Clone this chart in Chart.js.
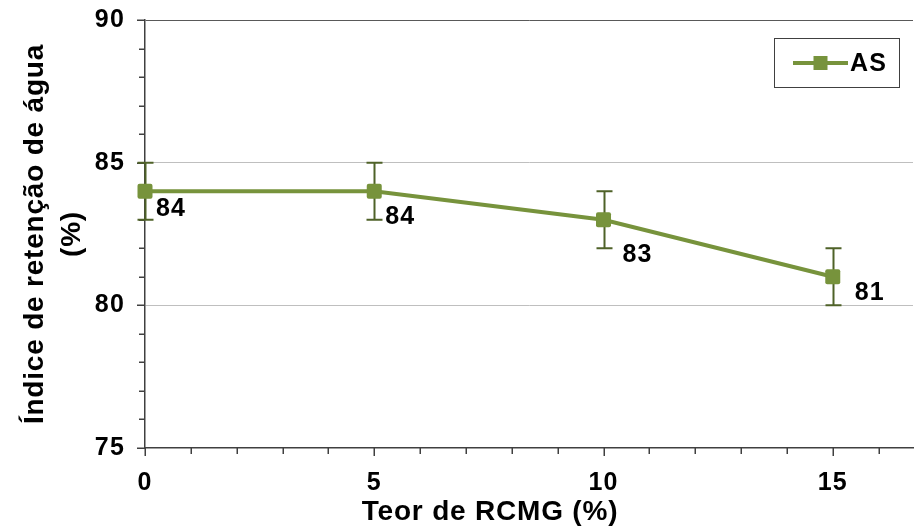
<!DOCTYPE html>
<html>
<head>
<meta charset="utf-8">
<script src="https://cdn.jsdelivr.net/npm/chart.js@4/dist/chart.umd.min.js"></script>
<style>
  html, body { margin: 0; padding: 0; background: #ffffff; }
  #wrap { width: 914px; height: 527px; }
</style>
</head>
<body>
<div id="wrap"><canvas id="c" width="914" height="527"></canvas></div>
<script>
// Water retention index versus RCMG content
const teorRCMG = [0, 5, 10, 15];
const retencaoAS = [84, 84, 83, 81];
const erroAS = [1, 1, 1, 1];
const seriesName = 'AS';
const xTitle = 'Teor de RCMG (%)';
const yTitleLines = ['Índice de retenção de água', '(%)'];

const GREEN = '#77933C';
const DARK_GREEN = '#4F6228';
const AXIS = '#404040';
const FONT = '"Liberation Sans", Arial, sans-serif';
const LABEL_SPACING = '1.2px';
const TITLE_SPACING = '0.8px';

const overlay = {
  id: 'overlay',
  beforeDraw(chart) {
    chart.ctx.letterSpacing = LABEL_SPACING;
  },
  afterDatasetsDraw(chart, args, opts) {
    const ctx = chart.ctx;
    const xs = chart.scales.x, ys = chart.scales.y;
    const area = chart.chartArea;
    ctx.save();

    // minor + major tick marks (outside)
    ctx.strokeStyle = AXIS;
    ctx.lineWidth = 1.5;
    for (let v = Math.ceil(xs.min); v <= xs.max; v++) {
      const px = Math.round(xs.getPixelForValue(v)) + 0.25;
      const len = v % 5 === 0 ? 8 : 6;
      ctx.beginPath(); ctx.moveTo(px, area.bottom); ctx.lineTo(px, area.bottom + len); ctx.stroke();
    }
    for (let v = ys.min; v <= ys.max; v++) {
      const py = Math.round(ys.getPixelForValue(v)) + 0.25;
      const len = v % 5 === 0 ? 8 : 6;
      ctx.beginPath(); ctx.moveTo(area.left, py); ctx.lineTo(area.left - len, py); ctx.stroke();
    }

    // error bars
    const meta = chart.getDatasetMeta(0);
    ctx.strokeStyle = DARK_GREEN;
    ctx.lineWidth = 2;
    meta.data.forEach((pt, i) => {
      const x = Math.round(pt.x) + 0.5;
      const yTop = ys.getPixelForValue(retencaoAS[i] + erroAS[i]);
      const yBot = ys.getPixelForValue(retencaoAS[i] - erroAS[i]);
      ctx.beginPath();
      ctx.moveTo(x, yTop); ctx.lineTo(x, yBot);
      ctx.moveTo(x - 8, yTop); ctx.lineTo(x + 8, yTop);
      ctx.moveTo(x - 8, yBot); ctx.lineTo(x + 8, yBot);
      ctx.stroke();
    });
    ctx.restore();
  },
  afterDraw(chart, args, opts) {
    const ctx = chart.ctx;
    const meta = chart.getDatasetMeta(0);
    ctx.save();
    ctx.letterSpacing = LABEL_SPACING;

    // markers above error bars
    meta.data.forEach(pt => {
      ctx.fillStyle = GREEN;
      ctx.beginPath();
      ctx.roundRect(pt.x - 7.5, pt.y - 7.5, 15, 15, 2);
      ctx.fill();
    });

    // value labels
    ctx.fillStyle = '#000';
    ctx.font = 'bold 25px ' + FONT;
    ctx.textAlign = 'center';
    ctx.textBaseline = 'middle';
    meta.data.forEach((pt, i) => {
      const off = opts.labelOffsets[i];
      ctx.fillText(String(retencaoAS[i]), pt.x + off[0], pt.y + off[1]);
    });

    // legend box
    const lg = opts.legendBox;
    ctx.strokeStyle = '#404040';
    ctx.lineWidth = 1;
    ctx.strokeRect(lg[0] + 0.5, lg[1] + 0.5, lg[2], lg[3]);
    const cy = lg[1] + lg[3] / 2 + 0.5;
    ctx.strokeStyle = GREEN;
    ctx.lineWidth = 4;
    ctx.beginPath(); ctx.moveTo(lg[0] + 19, cy); ctx.lineTo(lg[0] + 74, cy); ctx.stroke();
    ctx.fillStyle = GREEN;
    ctx.fillRect(lg[0] + 46.5 - 7, cy - 7, 14, 14);
    ctx.fillStyle = '#000';
    ctx.textAlign = 'left';
    ctx.fillText(seriesName, lg[0] + 76, cy + 1);

    // axis titles
    ctx.letterSpacing = TITLE_SPACING;
    ctx.textAlign = 'center';
    ctx.font = 'bold 28px ' + FONT;
    ctx.fillText(xTitle, opts.xTitlePos[0], opts.xTitlePos[1]);
    ctx.translate(opts.yTitlePos[0], opts.yTitlePos[1]);
    ctx.rotate(-Math.PI / 2);
    ctx.fillText(yTitleLines[0], 0, 0);
    ctx.fillText(yTitleLines[1], 0, opts.yTitleGap);
    ctx.restore();
  }
};

new Chart(document.getElementById('c'), {
  type: 'line',
  data: {
    datasets: [{
      label: seriesName,
      data: teorRCMG.map((x, i) => ({ x, y: retencaoAS[i] })),
      borderColor: GREEN,
      backgroundColor: GREEN,
      borderWidth: 4,
      pointStyle: 'rect',
      pointRadius: 0,
      tension: 0,
      fill: false
    }]
  },
  options: {
    responsive: false,
    animation: false,
    layout: { padding: { top: 20, right: 1, left: 0, bottom: 0 } },
    plugins: {
      legend: { display: false },
      tooltip: { enabled: false },
      overlay: {
        labelOffsets: [[26, 18], [26, 26], [34, 35], [37, 16]],
        xTitlePos: [490, 512],
        yTitlePos: [35, 234],
        yTitleGap: 37,
        legendBox: [774, 38, 125, 49]
      }
    },
    scales: {
      x: {
        type: 'linear',
        min: 0,
        max: 16.75,
        afterFit: s => { s.height = 79; s.paddingLeft = 0; s.paddingRight = 0; },
        ticks: {
          stepSize: 5,
          includeBounds: false,
          padding: 20,
          color: '#000',
          font: { family: FONT, size: 25, weight: 'bold' }
        },
        grid: { display: false, drawTicks: false },
        border: { display: true, color: AXIS, width: 1.5 }
      },
      y: {
        min: 75,
        max: 90,
        afterFit: s => { s.width = 145; s.paddingTop = 0; s.paddingBottom = 0; },
        ticks: {
          stepSize: 5,
          padding: 20,
          color: '#000',
          font: { family: FONT, size: 25, weight: 'bold' }
        },
        grid: {
          drawTicks: false,
          lineWidth: 1,
          color: ctx => ctx.tick && ctx.tick.value === 90 ? '#595959' : (ctx.tick && ctx.tick.value === 75 ? 'rgba(0,0,0,0)' : '#BFBFBF')
        },
        border: { display: true, color: AXIS, width: 1.5 }
      }
    }
  },
  plugins: [overlay]
});
</script>
</body>
</html>
